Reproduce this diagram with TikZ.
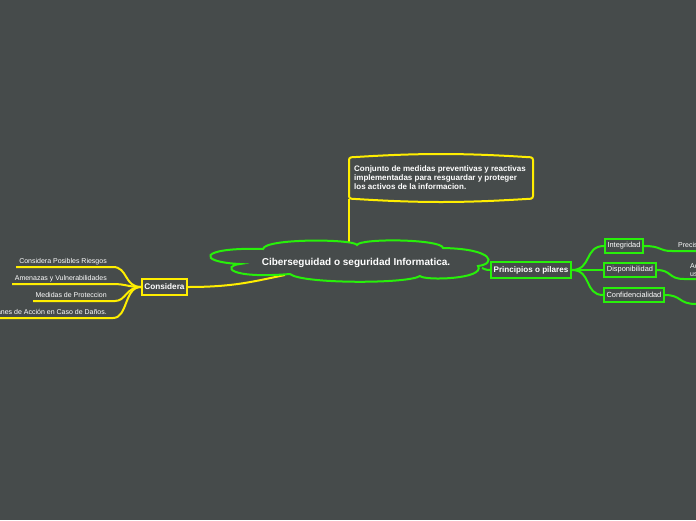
\documentclass[tikz,border=0pt]{standalone}
\usepackage{fontspec}
\setmainfont{Liberation Sans}
\definecolor{bg}{RGB}{70,75,75}
\definecolor{mmgreen}{RGB}{40,240,10}
\definecolor{mmyellow}{RGB}{255,238,0}
\tikzset{
  gline/.style={draw=mmgreen,line width=2pt},
  yline/.style={draw=mmyellow,line width=2pt},
  gbox/.style={draw=mmgreen,line width=2pt,fill=bg,text=white,inner sep=2.5pt,minimum height=14pt,font=\fontsize{7.4}{9}\selectfont},
  ybox/.style={draw=mmyellow,line width=2pt,fill=bg,text=white,inner sep=2.5pt,minimum height=16pt,font=\fontsize{8.2}{10}\selectfont\bfseries},
  lbl/.style={text=white,inner sep=0pt,font=\fontsize{7}{8.5}\selectfont},
}
\begin{document}
\begin{tikzpicture}[x=1pt,y=-1pt]
\fill[bg] (0,0) rectangle (696,520);
\useasboundingbox (0,0) rectangle (696,520);

% ---------- callout box ----------
\coordinate (cb) at (349,199);
\coordinate (ctop) at (349,243);
\draw[yline] (cb) -- (ctop);
\draw[yline,fill=bg] (349,160) .. controls (349,157) and (352,157) .. (356,157)
  .. controls (420,153) and (462,153) .. (526,157)
  .. controls (530,157) and (533,157) .. (533,160) -- (533,196)
  .. controls (533,199) and (530,199) .. (526,199)
  .. controls (462,203) and (420,203) .. (356,199)
  .. controls (352,199) and (349,199) .. (349,196) -- cycle;
\node[text=white,inner sep=0pt,anchor=north west,align=left,font=\fontsize{8}{9}\selectfont\bfseries] (desc) at (354,165)
  {Conjunto de medidas preventivas y reactivas\\implementadas para resguardar y proteger\\los activos de la informacion.};

% ---------- connectors from cloud ----------
\node[ybox] (cons) at (164.5,287) {Considera};
\node[gbox,font=\fontsize{8.1}{10}\selectfont\bfseries,minimum height=16pt] (prin) at (531,270) {Principios o pilares};
\coordinate (cl) at (285,275);
\coordinate (cr) at (482,268);
\draw[yline] (cons.east) .. controls (235,287) and (255,281) .. (cl);
\draw[gline] (cr) .. controls (486,270) and (488,270) .. (prin.west);

% ---------- central cloud ----------
\draw[draw=mmgreen,line width=2pt,fill=bg]
  (263,249) .. controls (265,238) and (355,239) .. (357,245)
  .. controls (360,238) and (442,239) .. (443,248)
  .. controls (495,249) and (496,264) .. (478,266)
  .. controls (486,279) and (425,281) .. (420,276)
  .. controls (408,284) and (302,284) .. (290,274)
  .. controls (228,279) and (222,266) .. (240,264)
  .. controls (196,262) and (198,247) .. (263,249) -- cycle;
\node[text=white,inner sep=0pt,font=\fontsize{10}{12}\selectfont\bfseries] (main) at (356,263) {Ciberseguidad o seguridad Informatica.};

% ---------- left children ----------
\node[lbl,anchor=base east] (l1) at (107,263) {Considera Posibles Riesgos};
\node[lbl,anchor=base east] (l2) at (107,280) {Amenazas y Vulnerabilidades};
\node[lbl,anchor=base east] (l3) at (107,297) {Medidas de Proteccion};
\node[lbl,anchor=base east] (l4) at (107,314) {Planes de Acción en Caso de Daños.};
\coordinate (u1a) at (16,267);  \coordinate (u1b) at (113,267);
\coordinate (u2a) at (12,284);  \coordinate (u2b) at (113,284);
\coordinate (u3a) at (33,301);  \coordinate (u3b) at (115,301);
\coordinate (u4a) at (-5,318);  \coordinate (u4b) at (113,318);
\draw[yline] (u1a) -- (u1b) .. controls (128,267) and (124,287) .. (cons.west);
\draw[yline] (u2a) -- (u2b) .. controls (126,284) and (128,287) .. (cons.west);
\draw[yline] (u3a) -- (u3b) .. controls (126,301) and (126,287) .. (cons.west);
\draw[yline] (u4a) -- (u4b) .. controls (128,318) and (124,287) .. (cons.west);

% ---------- right children ----------
\node[gbox] (integ) at (624,246) {Integridad};
\node[gbox] (disp) at (630,270) {Disponibilidad};
\node[gbox] (conf) at (634,295) {Confidencialidad};
\draw[gline] (prin.east) .. controls (592,270) and (584,246) .. (integ.west);
\draw[gline] (prin.east) .. controls (588,270) and (590,270) .. (disp.west);
\draw[gline] (prin.east) .. controls (592,270) and (584,295) .. (conf.west);

% ---------- grandchildren (cut off at right edge) ----------
\node[lbl,anchor=base west] (g1) at (678,247) {Precisión};
\node[lbl,anchor=base west] (g2) at (690,268) {Acceso};
\node[lbl,anchor=base west] (g2b) at (690,276) {usuarios};
\coordinate (v1a) at (672,251); \coordinate (v1b) at (700,251);
\coordinate (v2a) at (684,279); \coordinate (v2b) at (700,279);
\coordinate (v3a) at (696,304); \coordinate (v3b) at (702,304);
\draw[gline] (integ.east) .. controls (662,246) and (658,251) .. (v1a) -- (v1b);
\draw[gline] (disp.east) .. controls (672,270) and (668,279) .. (v2a) -- (v2b);
\draw[gline] (conf.east) .. controls (682,295) and (678,304) .. (v3a) -- (v3b);
\end{tikzpicture}
\end{document}
